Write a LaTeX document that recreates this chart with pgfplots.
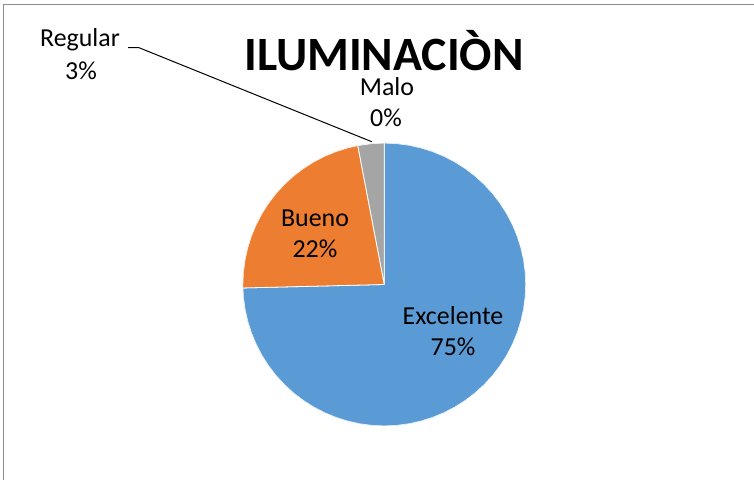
\documentclass[border=0pt]{standalone}
\usepackage{pgfplots}
\pgfplotsset{compat=1.18}
\usepgfplotslibrary{polar}
\usepackage{fontspec}
\setmainfont{Carlito}
\definecolor{cexc}{HTML}{5B9BD5}
\definecolor{cbue}{HTML}{ED7D31}
\definecolor{creg}{HTML}{A5A5A5}
\definecolor{cframe}{HTML}{8C8C8C}

\begin{document}
\begin{tikzpicture}[x=1bp, y=1bp]
\path[use as bounding box] (0,0) rectangle (754,480);
% chart frame (top and left edges visible)
\draw[cframe, line width=1.5bp] (3.5,0) -- (3.5,475.5) -- (754,475.5);

% shares: Excelente 74.6%, Bueno 22.6%, Regular 2.8%, Malo 0%
% slices start at 90 deg and run clockwise
\begin{polaraxis}[
    at={(384.3bp,195.5bp)}, anchor=center,
    scale only axis, width=283bp, height=283bp,
    ymin=0, ymax=1,
    hide axis,
]
% Excelente: 90 -> -178.6
\addplot[fill=cexc, draw=white, line width=0.8pt] coordinates {
    (0,0) (90,1) (85,1) (80,1) (75,1) (70,1) (65,1) (60,1) (55,1) (50,1)
    (45,1) (40,1) (35,1) (30,1) (25,1) (20,1) (15,1) (10,1) (5,1) (0,1)
    (-5,1) (-10,1) (-15,1) (-20,1) (-25,1) (-30,1) (-35,1) (-40,1) (-45,1)
    (-50,1) (-55,1) (-60,1) (-65,1) (-70,1) (-75,1) (-80,1) (-85,1) (-90,1)
    (-95,1) (-100,1) (-105,1) (-110,1) (-115,1) (-120,1) (-125,1) (-130,1)
    (-135,1) (-140,1) (-145,1) (-150,1) (-155,1) (-160,1) (-165,1) (-170,1)
    (-175,1) (-178.6,1) (0,0)
};
% Bueno: 181.4 -> 100.8
\addplot[fill=cbue, draw=white, line width=0.8pt] coordinates {
    (0,0) (181.4,1) (180,1) (175,1) (170,1) (165,1) (160,1) (155,1) (150,1)
    (145,1) (140,1) (135,1) (130,1) (125,1) (120,1) (115,1) (110,1) (105,1)
    (100.8,1) (0,0)
};
% Regular: 100.8 -> 90
\addplot[fill=creg, draw=white, line width=0.8pt] coordinates {
    (0,0) (100.8,1) (95,1) (90,1) (0,0)
};
\end{polaraxis}

% title
\node[anchor=base, font=\fontsize{48}{50}\selectfont\bfseries, inner sep=0pt] at (384,{480-70.5}) {ILUMINACIÒN};

% data labels
\begin{scope}[every node/.style={anchor=base, inner sep=0pt, font=\fontsize{26}{30}\selectfont}]
\node at (80,{480-46.7}) {Regular};
\node at (81,{480-80}) {3\%};
\node at (387,{480-96}) {Malo};
\node at (386,{480-126.7}) {0\%};
\node at (315,{480-226.7}) {Bueno};
\node at (315,{480-258}) {22\%};
\node at (453,{480-325}) {Excelente};
\node at (453,{480-356}) {75\%};
\end{scope}

% leader line for Regular
\draw[black, line width=1bp] (128,{480-47.7}) -- (139,{480-47.7}) -- (371.7,{480-141.7});
\end{tikzpicture}
\end{document}
